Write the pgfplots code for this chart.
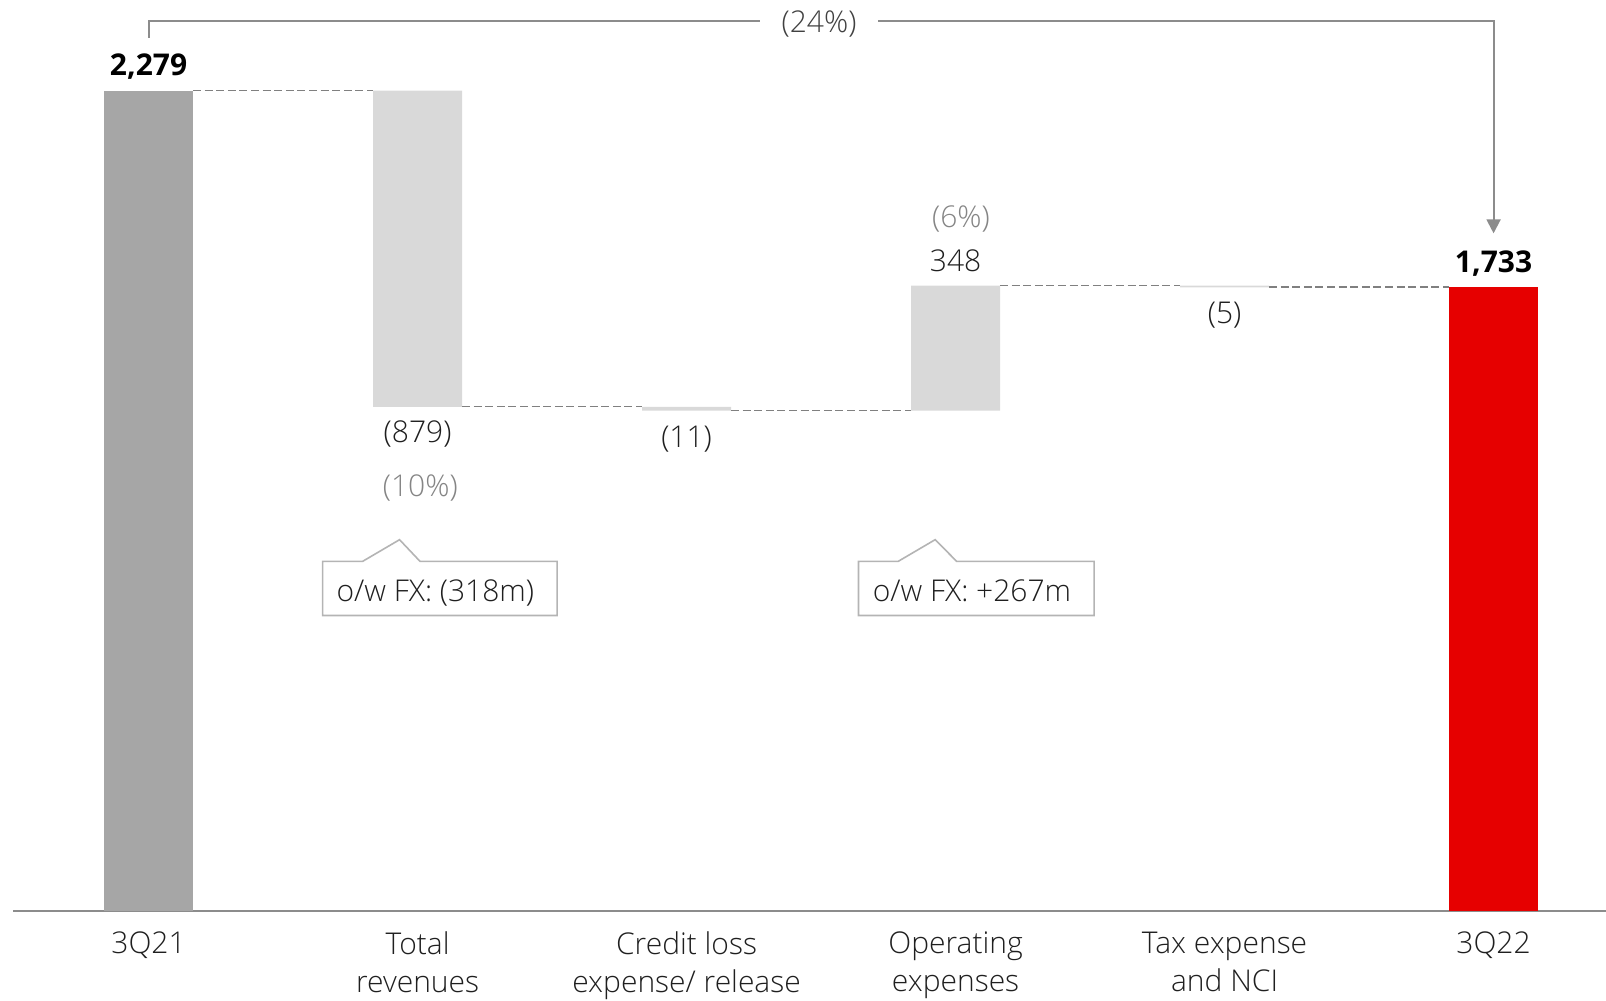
\documentclass[border=0pt]{standalone}
\usepackage{pgfplots}
\pgfplotsset{compat=1.18}
\usepackage{fontspec}
\setmainfont{Open Sans}[UprightFont=* Light, BoldFont=* Bold]
\usetikzlibrary{arrows.meta}

\definecolor{barDark}{HTML}{A6A6A6}
\definecolor{barLight}{HTML}{D9D9D9}
\definecolor{ubsRed}{HTML}{E60000}
\definecolor{txtDark}{HTML}{1F1F1F}
\definecolor{txtGray}{HTML}{858585}
\definecolor{lineGray}{HTML}{8C8C8C}
\definecolor{dashGray}{HTML}{808080}
\definecolor{boxGray}{HTML}{B4B4B4}

\pgfplotsset{
  wfbase/.style={
    scale only axis, width=796.5pt, height=455.25pt,
    xmin=-0.504, xmax=5.418, ymin=0, ymax=2530.6,
    clip=false,
  },
  connector/.style={dashGray, line width=0.55pt, dash pattern=on 4pt off 1.8pt, no marks},
}
\tikzset{
  val/.style={inner sep=0pt, text height=10.7pt, text depth=0pt, anchor=center,
    font=\fontsize{15}{19}\selectfont, text=txtDark},
  pct/.style={val, text=txtGray},
}

\begin{document}
\begin{tikzpicture}
\path[use as bounding box] (-6.5pt,-45.25pt) rectangle (796.5pt,455.25pt);

% bars of the bridge: invisible base plus visible segments
\begin{axis}[wfbase, ybar stacked, bar width=44.5pt,
  axis y line=none, axis x line*=bottom,
  x axis line style={lineGray, line width=1pt, -},
  xtick={0,1,2,3,4,5}, major tick length=0pt,
  xticklabels={3Q21, {Total\\revenues}, {Credit loss\\expense/ release},
    {Operating\\expenses}, {Tax expense\\and NCI}, 3Q22},
  xticklabel style={align=center, anchor=north, inner sep=0pt, yshift=-10.5pt,
    text=txtDark, font=\fontsize{15}{19}\selectfont},
]
\addplot[draw=none, fill=none, forget plot] coordinates {(0,0) (1,1400) (2,1389) (3,1389) (4,1732) (5,0)};
\addplot[draw=none, fill=barDark] coordinates {(0,2279) (1,0) (2,0) (3,0) (4,0) (5,0)};
\addplot[draw=none, fill=barLight] coordinates {(0,0) (1,879) (2,11) (3,348) (4,5) (5,0)};
\addplot[draw=none, fill=ubsRed] coordinates {(0,0) (1,0) (2,0) (3,0) (4,0) (5,1733)};
\end{axis}

% connectors, bracket and labels
\begin{axis}[wfbase, hide axis]
\addplot[connector] coordinates {(0.1654,2279) (0.8346,2279)};
\addplot[connector] coordinates {(1.1654,1400) (1.8346,1400)};
\addplot[connector] coordinates {(2.1654,1389) (2.8346,1389)};
\addplot[connector] coordinates {(3.1654,1737) (3.8346,1737)};
\addplot[connector] coordinates {(4.1654,1733) (4.8346,1733)};

\addplot[lineGray, line width=1pt, no marks, -{Triangle[length=7pt,width=7pt]}]
  coordinates {(0,2425) (0,2471) (5,2471) (5,1882)};
\node[val, fill=white, minimum width=59.4pt, inner ysep=3pt, text=txtDark!85]
  at (axis cs:2.4926,2471) {(24\%)};

\node[val, font=\fontsize{15}{19}\selectfont\bfseries, text=black] at (axis cs:0,2279) [yshift=12.75pt] {2,279};
\node[val, font=\fontsize{15}{19}\selectfont\bfseries, text=black] at (axis cs:5,1733) [yshift=12.5pt] {1,733};
\node[val] at (axis cs:1,1400) [yshift=-12.75pt] {(879)};
\node[pct] at (axis cs:1.01,1400) [yshift=-39.35pt] {(10\%)};
\node[val] at (axis cs:2,1389) [yshift=-12.8pt] {(11)};
\node[val] at (axis cs:3,1737) [yshift=12.25pt] {348};
\node[pct] at (axis cs:3.02,1737) [yshift=34.25pt] {(6\%)};
\node[val] at (axis cs:4,1732) [yshift=-12.55pt] {(5)};

% FX callouts
\draw[boxGray, line width=0.8pt, fill=white]
  (axis cs:0.647,970.5) -- (axis cs:0.796,970.5) -- (axis cs:0.933,1030.6)
  -- (axis cs:1.009,970.5) -- (axis cs:1.519,970.5) -- (axis cs:1.519,819.9)
  -- (axis cs:0.647,819.9) -- cycle;
\node[val] at (axis cs:1.066,888) {o/w FX: (318m)};
\draw[boxGray, line width=0.8pt, fill=white]
  (axis cs:2.639,970.5) -- (axis cs:2.787,970.5) -- (axis cs:2.924,1030.6)
  -- (axis cs:3.004,970.5) -- (axis cs:3.515,970.5) -- (axis cs:3.515,819.9)
  -- (axis cs:2.639,819.9) -- cycle;
\node[val] at (axis cs:3.061,888) {o/w FX: +267m};
\end{axis}
\end{tikzpicture}
\end{document}
